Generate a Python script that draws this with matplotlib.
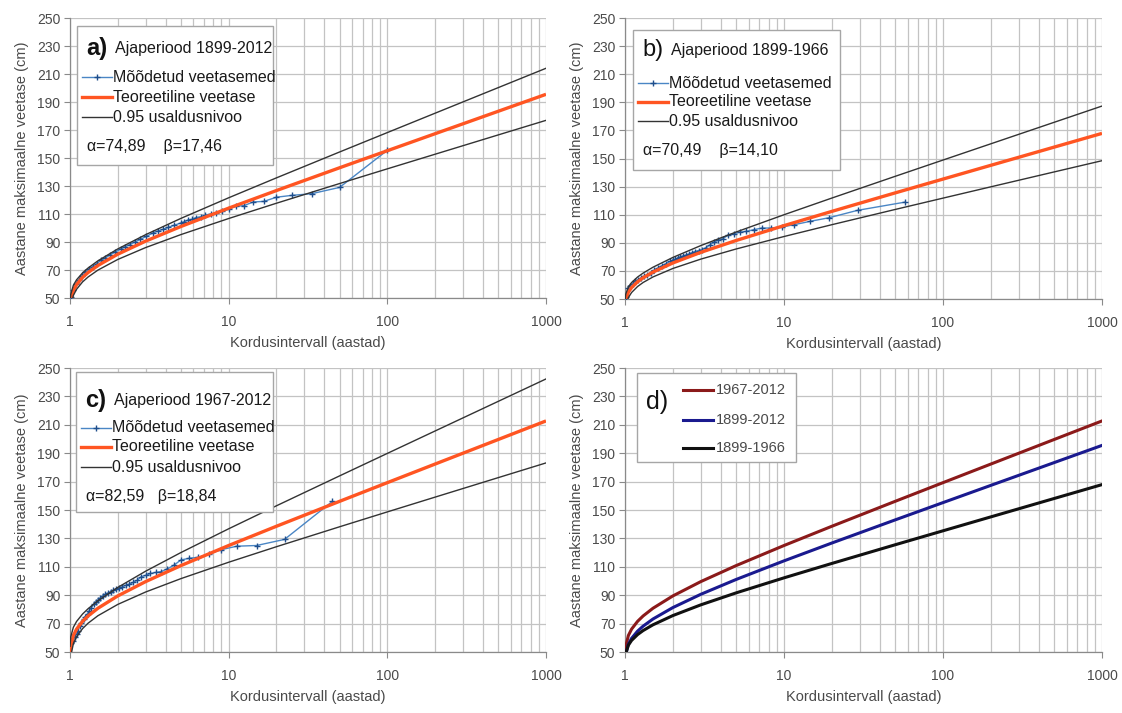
import matplotlib
matplotlib.use('Agg')
import matplotlib.pyplot as plt
from matplotlib.lines import Line2D
from matplotlib.patches import Rectangle
from matplotlib.ticker import LogLocator, NullFormatter, FixedLocator

# ---------------- data ----------------
T_curve = [1.001, 1.01, 1.05, 1.1, 1.2, 1.3, 1.5, 2, 3, 5, 10, 20, 50, 100, 200, 500, 1000]

theo_a = [41.14, 48.19, 55.46, 59.62, 64.71, 68.21, 73.25, 81.29, 90.65, 101.08, 114.18, 126.75, 143.02, 155.21, 167.35, 183.38, 195.49]
upper_a = [46.09, 52.42, 59.10, 63.02, 67.94, 71.42, 76.56, 85.05, 95.26, 106.86, 121.59, 135.81, 154.29, 168.16, 182.00, 200.27, 214.09]
lower_a = [36.19, 43.96, 51.82, 56.22, 61.48, 65.00, 69.94, 77.53, 86.04, 95.30, 106.77, 117.69, 131.75, 142.26, 152.70, 166.49, 176.89]

theo_b = [43.23, 48.93, 54.80, 58.16, 62.27, 65.10, 69.16, 75.66, 83.22, 91.64, 102.22, 112.37, 125.51, 135.35, 145.16, 158.10, 167.88]
upper_b = [48.41, 53.36, 58.61, 61.71, 65.65, 68.45, 72.62, 79.59, 88.04, 97.68, 109.97, 121.85, 137.30, 148.90, 160.47, 175.76, 187.33]
lower_b = [38.05, 44.50, 50.99, 54.61, 58.89, 61.75, 65.70, 71.73, 78.40, 85.60, 94.47, 102.89, 113.72, 121.80, 129.85, 140.44, 148.43]

theo_c = [46.17, 53.78, 61.62, 66.11, 71.60, 75.38, 80.82, 89.49, 99.60, 110.85, 124.99, 138.55, 156.10, 169.26, 182.36, 199.65, 212.72]
upper_c = [54.04, 60.51, 67.41, 71.51, 76.74, 80.48, 86.08, 95.47, 106.93, 120.03, 136.77, 152.96, 174.02, 189.86, 205.65, 226.51, 242.29]
lower_c = [38.30, 47.05, 55.83, 60.71, 66.46, 70.28, 75.56, 83.51, 92.27, 101.67, 113.21, 124.14, 138.18, 148.66, 159.07, 172.79, 183.15]

meas_a_T = [100.0, 50.0, 33.33, 25.0, 20.0, 16.67, 14.29, 12.5, 11.11, 10.0, 9.09, 8.33, 7.69, 7.14,
            6.67, 6.25, 5.88, 5.56, 5.26, 5.0, 4.545, 4.167, 3.846, 3.571, 3.333, 3.03, 2.778, 2.564,
            2.381, 2.222, 2.083, 1.923, 1.786, 1.667, 1.5625, 1.4706, 1.3889, 1.3158, 1.25, 1.1905,
            1.1364, 1.087, 1.0417, 1.0101]
meas_a_v = [155.5, 129.0, 124.5, 123.3, 122.0, 119.0, 118.6, 116.0, 115.5, 113.5, 112.0, 110.5, 110.0, 109.2,
            108.0, 107.5, 106.2, 105.8, 104.5, 103.6, 102.0, 100.5, 99.0, 97.8, 96.5, 94.0, 92.0, 90.0,
            88.2, 86.6, 85.0, 82.8, 80.8, 78.6, 76.8, 74.5, 72.5, 70.6, 68.3, 66.0,
            63.0, 60.0, 56.0, 51.0]

meas_b_T = [58.0, 29.0, 19.3, 14.5, 11.6, 9.67, 8.29, 7.25, 6.44, 5.8, 5.27, 4.83, 4.46, 4.14, 3.87,
            3.63, 3.41, 3.22, 3.05, 2.90, 2.76, 2.64, 2.52, 2.42, 2.32, 2.23, 2.15, 2.07, 2.0, 1.93,
            1.81, 1.71, 1.61, 1.53, 1.45, 1.38, 1.32, 1.26, 1.21, 1.16, 1.12, 1.08, 1.05, 1.02]
meas_b_v = [119.0, 113.1, 107.9, 105.2, 102.9, 101.2, 100.5, 100.5, 99.3, 98.1, 97.6, 96.4, 95.5, 93.0, 92.0,
            90.6, 88.4, 86.5, 85.2, 84.5, 83.8, 83.0, 82.0, 81.3, 80.7, 80.0, 79.2, 78.3, 77.6, 76.9,
            75.2, 73.8, 72.0, 70.5, 68.8, 67.3, 66.2, 65.0, 63.8, 63.0, 61.0, 59.5, 57.5, 51.5]

meas_c_T = [45.0, 22.5, 15.0, 11.25, 9.0, 7.5, 6.43, 5.63, 5.0, 4.5, 4.09, 3.75, 3.46, 3.21, 3.0,
            2.81, 2.65, 2.5, 2.37, 2.25, 2.14, 2.05, 1.96, 1.88, 1.80, 1.73, 1.67, 1.61, 1.55, 1.50,
            1.45, 1.41, 1.36, 1.32, 1.29, 1.25, 1.22, 1.18, 1.15, 1.12, 1.10, 1.07, 1.05, 1.02]
meas_c_v = [156.0, 129.3, 125.0, 124.5, 122.1, 119.0, 116.7, 116.0, 114.8, 111.0, 108.5, 106.6, 106.0, 105.3, 104.0,
            103.0, 100.5, 99.0, 97.8, 97.0, 96.0, 95.0, 94.5, 93.5, 92.5, 91.5, 90.5, 89.5, 88.0, 86.5,
            85.0, 83.5, 81.0, 79.0, 77.0, 75.0, 73.0, 70.5, 68.0, 65.0, 63.0, 60.5, 58.0, 56.0]

y_ticks = [50, 70, 90, 110, 130, 150, 170, 190, 210, 230, 250]
x_ticks = [1, 10, 100, 1000]
x_ticklabels = ['1', '10', '100', '1000']

panel_letters = ['a)', 'b)', 'c)', 'd)']
panel_titles = ['Ajaperiood 1899-2012', 'Ajaperiood 1899-1966', 'Ajaperiood 1967-2012']
params_text = ['\u03b1=74,89    \u03b2=17,46', '\u03b1=70,49    \u03b2=14,10', '\u03b1=82,59   \u03b2=18,84']
legend_labels = ['M\u00f5\u00f5detud veetasemed', 'Teoreetiline veetase', '0.95 usaldusnivoo']
d_labels = ['1967-2012', '1899-2012', '1899-1966']
ylabel = 'Aastane maksimaalne veetase (cm)'
xlabel = 'Kordusintervall (aastad)'

# ---------------- style ----------------
FONT = ['Liberation Sans', 'DejaVu Sans']
plt.rcParams['font.family'] = FONT

W, H = 1122, 713
fig = plt.figure(figsize=(W / 100, H / 100), dpi=100)

C_MEAS_LINE = '#4a86c5'
C_MEAS_MARK = '#1f4e8c'
C_THEO = '#ff5522'
C_CONF = '#333333'
C_GRID = '#c3c3c3'
C_TXT = '#4a4a4a'

def fx(x):
    return x / W

def fy(y):
    return 1 - y / H

def make_ax(l, r, t, b):
    ax = fig.add_axes([fx(l), fy(b), (r - l) / W, (b - t) / H])
    ax.set_xscale('log')
    ax.set_xlim(1, 1000)
    ax.set_ylim(50, 250)
    ax.yaxis.set_major_locator(FixedLocator(y_ticks))
    ax.xaxis.set_major_locator(FixedLocator(x_ticks))
    ax.set_xticklabels(x_ticklabels)
    ax.xaxis.set_minor_locator(LogLocator(base=10, subs=range(2, 10)))
    ax.xaxis.set_minor_formatter(NullFormatter())
    ax.grid(True, which='both', axis='x', color=C_GRID, lw=0.9)
    ax.grid(True, which='major', axis='y', color=C_GRID, lw=0.9)
    ax.set_axisbelow(True)
    ax.tick_params(which='minor', length=0)
    ax.tick_params(which='major', length=4, width=0.8, color='#8a8a8a',
                   labelsize=10, labelcolor=C_TXT, direction='out')
    ax.tick_params(axis='x', pad=8)
    ax.tick_params(axis='y', pad=3)
    for s in ['top', 'right']:
        ax.spines[s].set_visible(False)
    for s in ['left', 'bottom']:
        ax.spines[s].set_color('#8a8a8a')
        ax.spines[s].set_linewidth(0.9)
    ax.set_ylabel(ylabel, fontsize=10.5, color=C_TXT, labelpad=6)
    ax.set_xlabel(xlabel, fontsize=10.5, color=C_TXT, labelpad=5)
    return ax

ax_a = make_ax(70, 546, 18, 298)
ax_b = make_ax(625, 1102, 18, 299)
ax_c = make_ax(70, 546, 368, 652)
ax_d = make_ax(625, 1102, 368, 652)

def draw_gumbel(ax, mt, mv, th, up, lo):
    ax.plot(mt, mv, color=C_MEAS_LINE, lw=1.0, marker='+', ms=5, mew=1.0,
            mec=C_MEAS_MARK, zorder=3)
    ax.plot(T_curve, th, color=C_THEO, lw=2.4, zorder=4, solid_capstyle='butt')
    ax.plot(T_curve, up, color=C_CONF, lw=1.0, zorder=5)
    ax.plot(T_curve, lo, color=C_CONF, lw=1.0, zorder=5)

draw_gumbel(ax_a, meas_a_T, meas_a_v, theo_a, upper_a, lower_a)
draw_gumbel(ax_b, meas_b_T, meas_b_v, theo_b, upper_b, lower_b)
draw_gumbel(ax_c, meas_c_T, meas_c_v, theo_c, upper_c, lower_c)

ax_d.plot(T_curve, theo_c, color='#8b1a1a', lw=2.2, zorder=4)
ax_d.plot(T_curve, theo_a, color='#1a1a8f', lw=2.2, zorder=4)
ax_d.plot(T_curve, theo_b, color='#111111', lw=2.2, zorder=4)

# ---------------- legend boxes (figure pixel coords) ----------------
def box(l, t, r, b):
    fig.add_artist(Rectangle((fx(l), fy(b)), (r - l) / W, (b - t) / H,
                             transform=fig.transFigure, facecolor='white',
                             edgecolor='#a6a6a6', lw=1.0, zorder=10))

def line(x0, x1, y, **kw):
    fig.add_artist(Line2D([fx(x0), fx(x1)], [fy(y), fy(y)],
                          transform=fig.transFigure, zorder=11, **kw))

def txt(x, y, s, **kw):
    fig.text(fx(x), fy(y), s, va='center', ha='left', zorder=12, **kw)

def gumbel_legend(l, t, r, b, letter, title, ptxt, ys, bold):
    box(l, t, r, b)
    txt(l + 9, ys[0], letter, fontsize=17, color='#111111',
        fontweight='bold' if bold else 'normal')
    txt(l + 38, ys[0], title, fontsize=11.5, color='#1a1a1a')
    x0, x1 = l + 5, l + 35
    line(x0, x1, ys[1], color=C_MEAS_LINE, lw=1.0)
    fig.add_artist(Line2D([fx((x0 + x1) / 2)], [fy(ys[1])], transform=fig.transFigure,
                          marker='+', ms=5, mew=1.0, color=C_MEAS_MARK, zorder=11))
    line(x0, x1, ys[2], color=C_THEO, lw=2.4)
    line(x0, x1, ys[3], color=C_CONF, lw=1.0)
    txt(x1 + 1, ys[1], legend_labels[0], fontsize=11.5, color='#1a1a1a')
    txt(x1 + 1, ys[2], legend_labels[1], fontsize=11.5, color='#1a1a1a')
    txt(x1 + 1, ys[3], legend_labels[2], fontsize=11.5, color='#1a1a1a')
    txt(l + 10, ys[4], ptxt, fontsize=11.5, color='#1a1a1a')

gumbel_legend(77, 26, 273, 165, panel_letters[0], panel_titles[0], params_text[0],
              [48, 77, 97, 117, 147], True)
gumbel_legend(633, 30, 840, 170, panel_letters[1], panel_titles[1], params_text[1],
              [50, 83, 102, 121, 151], False)
gumbel_legend(76, 372, 273, 512, panel_letters[2], panel_titles[2], params_text[2],
              [400, 428, 447, 467, 497], True)

# panel d legend
box(637, 373, 796, 462)
txt(646, 402, panel_letters[3], fontsize=18, color='#111111')
for yy, col, lab in zip([390, 420, 448], ['#8b1a1a', '#1a1a8f', '#111111'], d_labels):
    line(683, 713, yy, color=col, lw=2.2)
    txt(716, yy, lab, fontsize=10.5, color=C_TXT)

fig.savefig('out.png', dpi=100)
